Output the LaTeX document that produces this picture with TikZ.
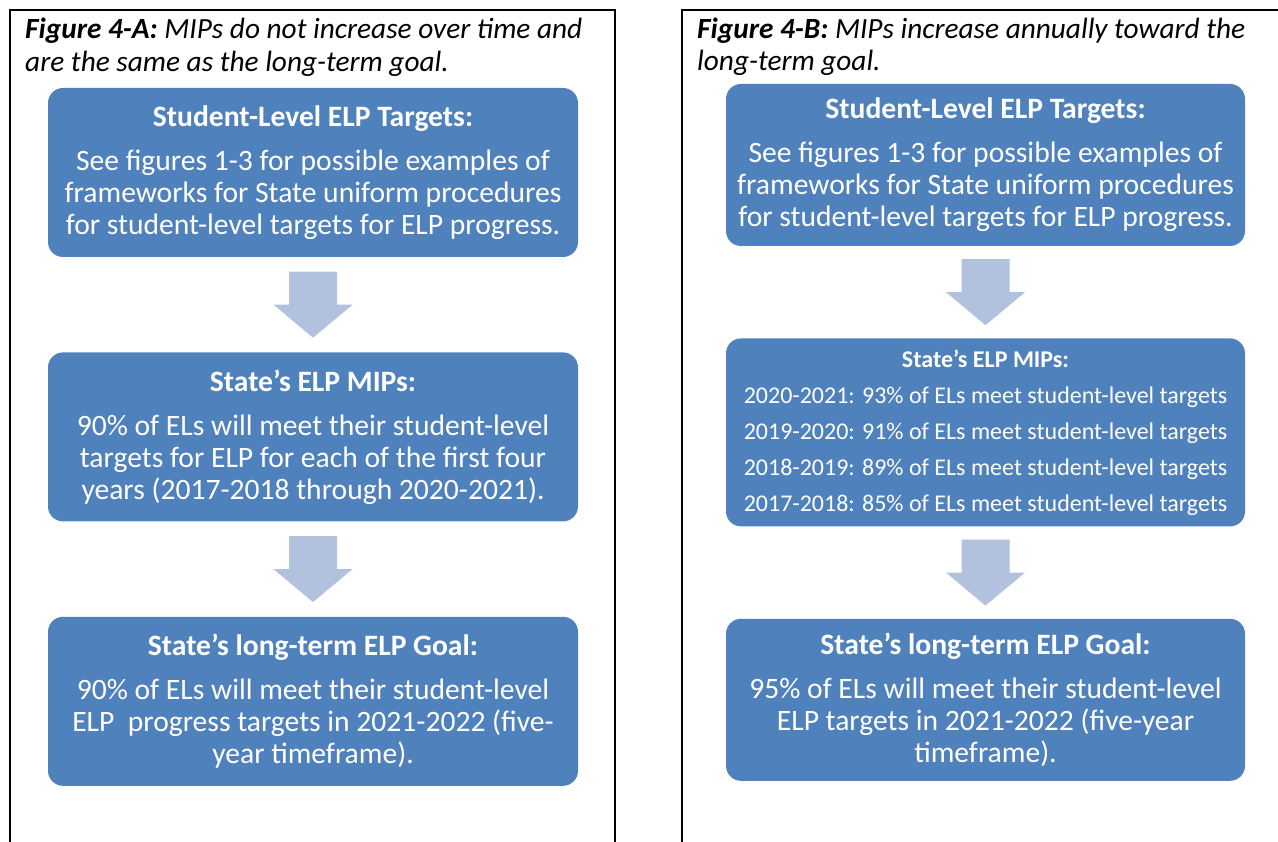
\documentclass[tikz,border=0pt]{standalone}
\usepackage{fontspec}
\setmainfont{Carlito}
\usepackage{tikz}
\usetikzlibrary{calc}
\usetikzlibrary{positioning}
\definecolor{boxblue}{RGB}{79,129,189}
\definecolor{arrowblue}{RGB}{178,193,222}

\begin{document}
\begin{tikzpicture}[x=1pt, y=-1pt,                                                          % pixel-like units
                        node distance = 95pt,                                                   % Node placement settings
                        box/.style = {rounded corners=15pt, fill=boxblue, text=white, inner sep=0pt,
                                      align=center, font=\fontsize{29.6}{32}\selectfont},
                        boxA/.style = {box, minimum width=530pt, minimum height=169pt},
                        boxB/.style = {box, minimum width=519pt, minimum height=162pt},
                        caption/.style = {inner sep=0pt, align=left, anchor=base west,
                                          font=\fontsize{29.3}{32.5}\selectfont\itshape},
                        frame/.style = {line width=2pt, black},
                        flowarrow/.style = {fill=arrowblue}]                                    % block arrows
        \useasboundingbox (0,0) rectangle (1278,842);
        % panel frames
        \draw[frame] (10,850) -- (10,10) -- (615,10) -- (615,850);
        \draw[frame] (682,850) -- (682,10) -- (1290,10);
        % left panel
        \node[caption] (titleA) at (25,71.5)
            {\textbf{Figure 4-A:} MIPs do not increase over time and\\are the same as the long-term goal.};
        \node[boxA] (tgtA) at (313,172.5)
            {\textbf{Student-Level ELP Targets:}\\[12pt]See figures 1-3 for possible examples of\\frameworks for State uniform procedures\\for student-level targets for ELP progress.};
        \node[boxA] (mipA) [below =of tgtA]
            {\textbf{State’s ELP MIPs:}\\[12pt]90\% of ELs will meet their student-level\\targets for ELP for each of the first four\\years (2017-2018 through 2020-2021).};
        \node[boxA] (goalA) [below =of mipA]
            {\textbf{State’s long-term ELP Goal:}\\[12pt]90\% of ELs will meet their student-level\\ELP\ \ progress targets in 2021-2022 (five-\\year timeframe).};
        % right panel (second caption line is cut at the bottom)
        \begin{scope}
            \clip (684,12) rectangle (1278,75);
            \node[caption] (titleB) at (697,71)
                {\textbf{Figure 4-B:} MIPs increase annually toward the\\long-term goal.};
        \end{scope}
        \node[boxB] (tgtB) at (985.5,165)
            {\textbf{Student-Level ELP Targets:}\\[12pt]See figures 1-3 for possible examples of\\frameworks for State uniform procedures\\for student-level targets for ELP progress.};
        \node[boxB, minimum height=188pt, font=\fontsize{24}{36}\selectfont] (mipB) [below =92pt of tgtB]
            {\textbf{State’s ELP MIPs:}\\2020-2021: 93\% of ELs meet student-level targets\\2019-2020: 91\% of ELs meet student-level targets\\2018-2019: 89\% of ELs meet student-level targets\\2017-2018: 85\% of ELs meet student-level targets};
        \node[boxB] (goalB) [below =92pt of mipB]
            {\textbf{State’s long-term ELP Goal:}\\[12pt]95\% of ELs will meet their student-level\\ELP targets in 2021-2022 (five-year\\timeframe).};
        % arrows between boxes
        \coordinate (a1) at ($(tgtA.south)!0.5!(mipA.north)$);
        \coordinate (a2) at ($(mipA.south)!0.5!(goalA.north)$);
        \coordinate (b1) at ($(tgtB.south)!0.5!(mipB.north)$);
        \coordinate (b2) at ($(mipB.south)!0.5!(goalB.north)$);
        \foreach \m in {a1, a2, b1, b2}
            \fill[flowarrow] (\m) ++(-24,-33) -- ++(48,0) -- ++(0,33) -- ++(15.5,0)
                -- ++(-39.5,33) -- ++(-39.5,-33) -- ++(15.5,0) -- cycle;
    \end{tikzpicture}
\end{document}
